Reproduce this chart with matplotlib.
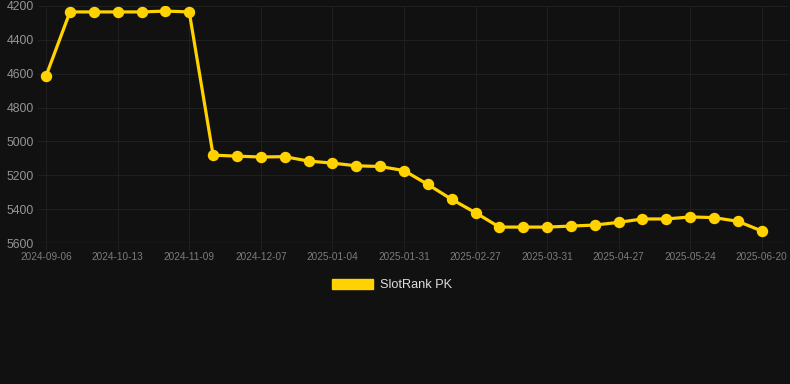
import matplotlib
matplotlib.use('Agg')
import matplotlib.pyplot as plt
from matplotlib.patches import Patch

plt.rcParams['font.family'] = ['Liberation Sans', 'DejaVu Sans']

# rank per weekly snapshot (lower is better, axis inverted)
rank = [4612, 4235, 4235, 4235, 4235, 4230, 4235,
        5081, 5087, 5092, 5090, 5116, 5128, 5144, 5148, 5172,
        5254, 5342, 5421, 5506, 5506, 5506, 5500, 5494, 5478,
        5458, 5458, 5446, 5450, 5472, 5529]
tick_labels = ['2024-09-06', '2024-10-13', '2024-11-09', '2024-12-07',
               '2025-01-04', '2025-01-31', '2025-02-27', '2025-03-31',
               '2025-04-27', '2025-05-24', '2025-06-20']
y_ticks = [4200, 4400, 4600, 4800, 5000, 5200, 5400, 5600]
series_name = 'SlotRank PK'

bg = '#111111'
gold = '#FFD200'

fig = plt.figure(figsize=(7.9, 3.84), dpi=100, facecolor=bg)
ax = fig.add_axes([38 / 790, 1 - 243 / 384, 750 / 790, 237 / 384])
ax.set_facecolor(bg)

x = list(range(len(rank)))
ax.plot(x, rank, color=gold, lw=2.3, marker='o', ms=7.2,
        markerfacecolor=gold, markeredgecolor=gold, zorder=3)

ax.set_ylim(5600, 4200)
ax.set_yticks(y_ticks)
ax.set_xlim(-0.34, 31.1)
ax.set_xticks(x[::3])
ax.set_xticklabels(tick_labels)

ax.grid(True, color='#1f1f1f', lw=0.8)
for s in ax.spines.values():
    s.set_visible(False)
ax.axhline(5600, color='#2a2a2a', lw=1, zorder=1)

ax.tick_params(axis='y', length=0, pad=3, labelsize=8.8, labelcolor='#959595')
ax.tick_params(axis='x', length=5, color='#1f1f1f', pad=1.5, labelsize=7.2,
               labelcolor='#7c7c7c')

handle = Patch(facecolor=gold, edgecolor=gold)
fig.legend([handle], [series_name], loc='center',
           bbox_to_anchor=(392 / 790, 1 - 285 / 384), frameon=False,
           fontsize=9.2, labelcolor='#dddddd', handlelength=3.2,
           handleheight=0.9, handletextpad=0.5)

fig.savefig('out.png', dpi=100, facecolor=bg)
